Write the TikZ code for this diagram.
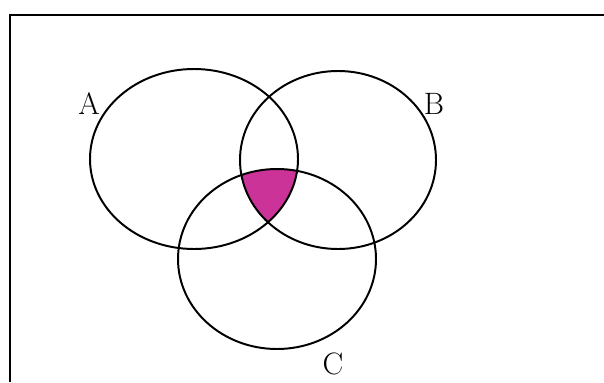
\documentclass[tikz,border=0pt]{standalone}
\usepackage{xcolor}
\usetikzlibrary{positioning}
\definecolor{venn}{RGB}{204,51,153}

\begin{document}
\begin{tikzpicture}[
      x=0.025cm, y=-0.025cm,
      set/.style={draw, line width=1.4pt},
      lab/.style={font=\fontsize{22}{26}\selectfont, inner sep=0pt}
    ]
    \useasboundingbox (0,0) rectangle (604,382);
    % frame (cut off at right and bottom)
    \coordinate (tl) at (10,15);
    \coordinate (tr) at (604,15);
    \coordinate (bl) at (10,382);
    \draw[line width=1.7pt] (bl) -- (tl) -- (tr);
    % shaded A and B and C
    \begin{scope}
      \clip (194,159) ellipse [x radius=104, y radius=90];
      \clip (338,160) ellipse [x radius=98, y radius=89];
      \fill[venn] (277,259) ellipse [x radius=99, y radius=90];
    \end{scope}
    \draw[set] (194,159) ellipse [x radius=104, y radius=90];
    \draw[set] (338,160) ellipse [x radius=98, y radius=89];
    \draw[set] (277,259) ellipse [x radius=99, y radius=90];
    \node[lab] (a) at (89,104) {A};
    \node[lab] (b) at (434,104) {B};
    \node[lab] (c) at (333,364) {C};
  \end{tikzpicture}
\end{document}
